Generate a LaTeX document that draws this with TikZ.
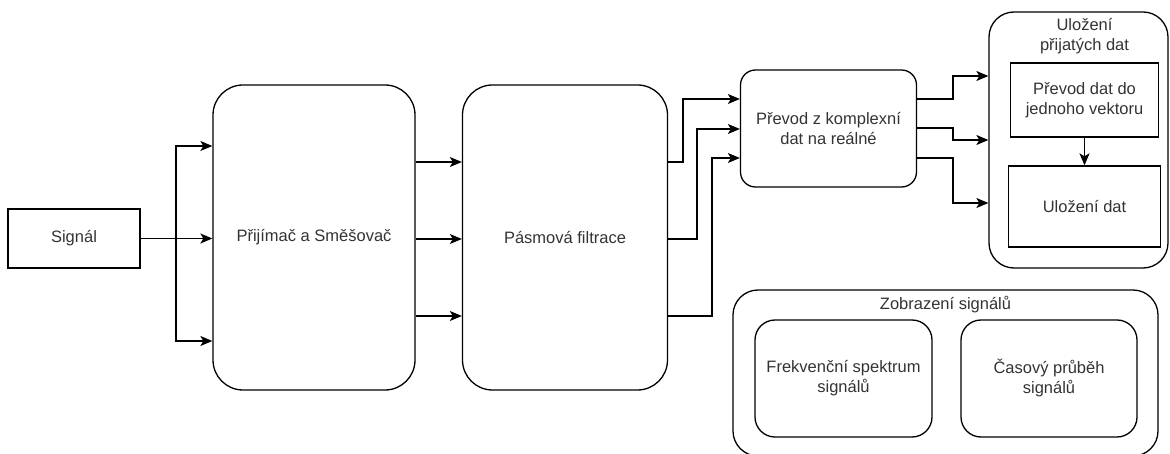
\documentclass[tikz,border=0pt]{standalone}
\usepackage{fontspec}
\setmainfont{Liberation Sans}
\usetikzlibrary{arrows.meta}
\definecolor{txtgray}{HTML}{333333}
\tikzset{
    box/.style={draw, line width=1.3pt, text=txtgray, align=center, inner sep=2pt,
        font=\fontsize{16.5}{20}\selectfont},
    roundbox/.style={box, rounded corners=#1},
    roundbox/.default=15pt,
    arr/.style={line width=1.3pt, -{Stealth[length=12pt,width=10pt,inset=3pt]}},
    wire/.style={line width=1.3pt},
    title/.style={text=txtgray, align=center, font=\fontsize{16.5}{20}\selectfont}
}
\begin{document}
\begin{tikzpicture}[x=1pt,y=-1pt]
    \useasboundingbox (0,0) rectangle (1170,454);
    % vstup
    \node[box, minimum width=132pt, minimum height=59pt] (sig) at (74,238.5) {Signál};
    % přijímač a filtr
    \node[roundbox=30pt, minimum width=202pt, minimum height=305pt] (rx) at (314,237.5) {Přijímač a Směšovač};
    \node[roundbox=30pt, minimum width=205pt, minimum height=305pt] (bpf) at (565,237.5) {Pásmová filtrace};
    % převod dat
    \node[roundbox=15pt, minimum width=176pt, minimum height=117pt] (conv) at (828.5,128.5) {Převod z komplexní\\dat na reálné};
    % uložení
    \node[roundbox=25pt, minimum width=179pt, minimum height=256pt] (store) at (1078.5,140) {};
    \node[title] (storetitle) at (1084.5,36) {Uložení\\přijatých dat};
    \node[box, minimum width=148pt, minimum height=74pt] (vec) at (1084.5,100) {Převod dat do\\jednoho vektoru};
    \node[box, minimum width=152pt, minimum height=81pt] (save) at (1084.5,206.5) {Uložení dat};
    % zobrazení
    \node[roundbox=25pt, minimum width=425pt, minimum height=166pt] (disp) at (945.5,373) {};
    \node[title] (disptitle) at (945.5,305) {Zobrazení signálů};
    \node[roundbox=20pt, minimum width=177pt, minimum height=117pt] (spec) at (843.5,378.5) {Frekvenční spektrum\\signálů};
    \node[roundbox=20pt, minimum width=176pt, minimum height=117pt] (time) at (1049,378.5) {Časový průběh\\signálů};
    % spoje
    \coordinate (split) at (176,238.5);
    \draw[wire] (sig.east) -- (split);
    \foreach \y in {146,238.5,341}
        \draw[arr] (split) |- (rx.west |- 0,\y);
    \foreach \y in {162,239,316}
        \draw[arr] (rx.east |- 0,\y) -- (bpf.west |- 0,\y);
    \foreach \ya/\xb/\yb in {162/683/99, 239/697/129, 316/712/158}
        \draw[arr] (bpf.east |- 0,\ya) -| (\xb,\yb) -- (conv.west |- 0,\yb);
    \foreach \ya/\yb in {99/76, 128/140, 158/203}
        \draw[arr] (conv.east |- 0,\ya) -| (953,\yb) -- (store.west |- 0,\yb);
    \draw[arr] (vec.south) -- (save.north);
\end{tikzpicture}
\end{document}
